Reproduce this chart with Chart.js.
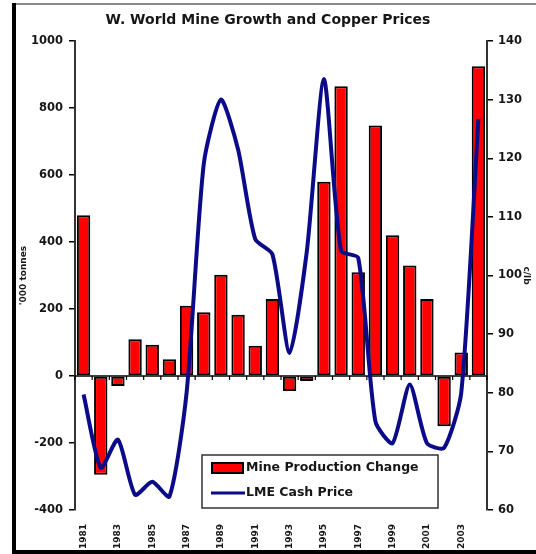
<!DOCTYPE html>
<html>
<head>
<meta charset="utf-8">
<script src="https://cdn.jsdelivr.net/npm/chart.js@4.4.0/dist/chart.umd.min.js"></script>
<style>
  html, body { margin: 0; padding: 0; background: #fff; }
  #wrap { width: 536px; height: 554px; position: relative; }
</style>
</head>
<body>
<div id="wrap"><canvas id="c"></canvas></div>
<script>
// ---- data ----
const years = ['1981','1982','1983','1984','1985','1986','1987','1988','1989','1990','1991','1992',
               '1993','1994','1995','1996','1997','1998','1999','2000','2001','2002','2003','2004'];
const mineChange = [480, -295, -30, 110, 93, 50, 210, 190, 302, 183, 90, 230,
                    -45, -15, 580, 865, 310, 748, 420, 330, 230, -150, 70, 925];
const lmePrice = [79.7, 67.2, 72.0, 62.6, 64.8, 62.3, 80.0, 119.0, 130.0, 121.5, 106.2, 103.6,
                  86.8, 104.0, 133.5, 104.2, 103.0, 75.1, 71.4, 81.4, 71.4, 70.6, 80.0, 126.7];
const leftTicks = { min: -400, max: 1000, step: 200 };
const rightTicks = { min: 60, max: 140, step: 10 };
const titleText = 'W. World Mine Growth and Copper Prices';
const seriesNames = ['Mine Production Change', 'LME Cash Price'];

const RED = '#ff0000';
const NAVY = '#0b0b8a';
const TXT = '#161616';

const decor = {
  id: 'decor',
  beforeDraw(chart) {
    const ctx = chart.ctx;
    ctx.save();
    ctx.fillStyle = '#fff';
    ctx.fillRect(0, 0, chart.width, chart.height);
    ctx.restore();
  },
  beforeDatasetsDraw(chart) {
    const ctx = chart.ctx, x = chart.scales.x, y = chart.scales.y;
    const y0 = y.getPixelForValue(0);
    ctx.save();
    ctx.strokeStyle = '#000';
    ctx.lineWidth = 1.5;
    ctx.beginPath();
    ctx.moveTo(chart.chartArea.left, y0);
    ctx.lineTo(chart.chartArea.right, y0);
    ctx.stroke();
    const n = years.length;
    const step = x.getPixelForValue(1) - x.getPixelForValue(0);
    ctx.lineWidth = 1.2;
    for (let k = 0; k <= n; k++) {
      const px = x.getPixelForValue(0) - step / 2 + k * step;
      ctx.beginPath();
      ctx.moveTo(px, y0);
      ctx.lineTo(px, y0 + 4);
      ctx.stroke();
    }
    ctx.restore();
  },
  afterDraw(chart) {
    const ctx = chart.ctx;
    ctx.save();
    ctx.fillStyle = '#8a8a8a';
    ctx.fillRect(12, 3, chart.width - 12, 2);
    ctx.fillStyle = '#000';
    ctx.fillRect(12, 3, 4, chart.height - 3);
    ctx.fillRect(12, chart.height - 4, chart.width - 12, 4);

    // legend
    const bx = 202, by = 455, bw = 236, bh = 53;
    ctx.fillStyle = '#fff';
    ctx.fillRect(bx, by, bw, bh);
    ctx.strokeStyle = '#333';
    ctx.lineWidth = 1.5;
    ctx.strokeRect(bx, by, bw, bh);
    ctx.fillStyle = '#000';
    ctx.fillRect(211, 462, 33, 12);
    ctx.fillStyle = RED;
    ctx.fillRect(213, 464, 29, 8);
    ctx.strokeStyle = NAVY;
    ctx.lineWidth = 3;
    ctx.beginPath();
    ctx.moveTo(211, 493);
    ctx.lineTo(245, 493);
    ctx.stroke();
    ctx.fillStyle = TXT;
    ctx.font = 'bold 12.5px "DejaVu Sans"';
    ctx.textBaseline = 'middle';
    ctx.textAlign = 'left';
    ctx.fillText(chart.data.datasets[1].label, 246, 468);
    ctx.fillText(chart.data.datasets[0].label, 246, 493);
    ctx.restore();
  }
};

Chart.defaults.font.family = '"DejaVu Sans", sans-serif';
Chart.defaults.color = TXT;

new Chart(document.getElementById('c'), {
  data: {
    labels: years,
    datasets: [
      {
        type: 'line',
        label: seriesNames[1],
        data: lmePrice,
        yAxisID: 'y2',
        borderColor: NAVY,
        borderWidth: 4,
        pointRadius: 0,
        tension: 0.22,
        fill: false,
        order: 0
      },
      {
        type: 'bar',
        label: seriesNames[0],
        data: mineChange,
        yAxisID: 'y',
        backgroundColor: RED,
        borderColor: '#000',
        borderWidth: 2,
        borderSkipped: false,
        categoryPercentage: 1.0,
        barPercentage: 0.78,
        order: 1
      }
    ]
  },
  options: {
    responsive: true,
    maintainAspectRatio: false,
    animation: false,
    devicePixelRatio: 1,
    layout: { padding: 0 },
    plugins: {
      legend: { display: false },
      tooltip: { enabled: false },
      title: {
        display: true,
        text: titleText,
        color: TXT,
        font: { family: '"DejaVu Sans"', size: 14, weight: 'bold' },
        padding: { top: 12, bottom: 12.2 }
      }
    },
    scales: {
      x: {
        type: 'category',
        offset: true,
        grid: { display: false },
        border: { display: false },
        ticks: {
          autoSkip: false,
          maxRotation: 90,
          minRotation: 90,
          padding: 6,
          color: TXT,
          font: { size: 9, weight: 'bold' },
          callback: function (val, idx) { return idx % 2 === 0 ? this.getLabelForValue(val) : ''; }
        },
        afterFit: (s) => { s.height = 44; }
      },
      y: {
        type: 'linear',
        position: 'left',
        min: leftTicks.min,
        max: leftTicks.max,
        grid: { drawOnChartArea: false, drawTicks: true, tickLength: 6, color: '#000', lineWidth: 1.5 },
        border: { display: true, color: '#333', width: 2 },
        ticks: { stepSize: leftTicks.step, padding: 6, color: TXT, font: { size: 11.5, weight: 'bold' },
                 callback: (v) => String(v) },
        title: { display: true, text: "'000 tonnes", color: TXT, font: { size: 9, weight: 'bold' }, padding: { top: 18 } },
        afterFit: (s) => { s.width = 75; }
      },
      y2: {
        type: 'linear',
        position: 'right',
        min: rightTicks.min,
        max: rightTicks.max,
        grid: { drawOnChartArea: false, drawTicks: true, tickLength: 6, color: '#000', lineWidth: 1.5 },
        border: { display: true, color: '#333', width: 2 },
        ticks: { stepSize: rightTicks.step, padding: 5, color: TXT, font: { size: 11.5, weight: 'bold' },
                 callback: (v) => String(v) },
        title: { display: true, text: 'c/lb', color: TXT, font: { size: 9, weight: 'bold' }, padding: { top: 4 } },
        afterFit: (s) => { s.width = 49; }
      }
    }
  },
  plugins: [decor]
});
</script>
</body>
</html>
